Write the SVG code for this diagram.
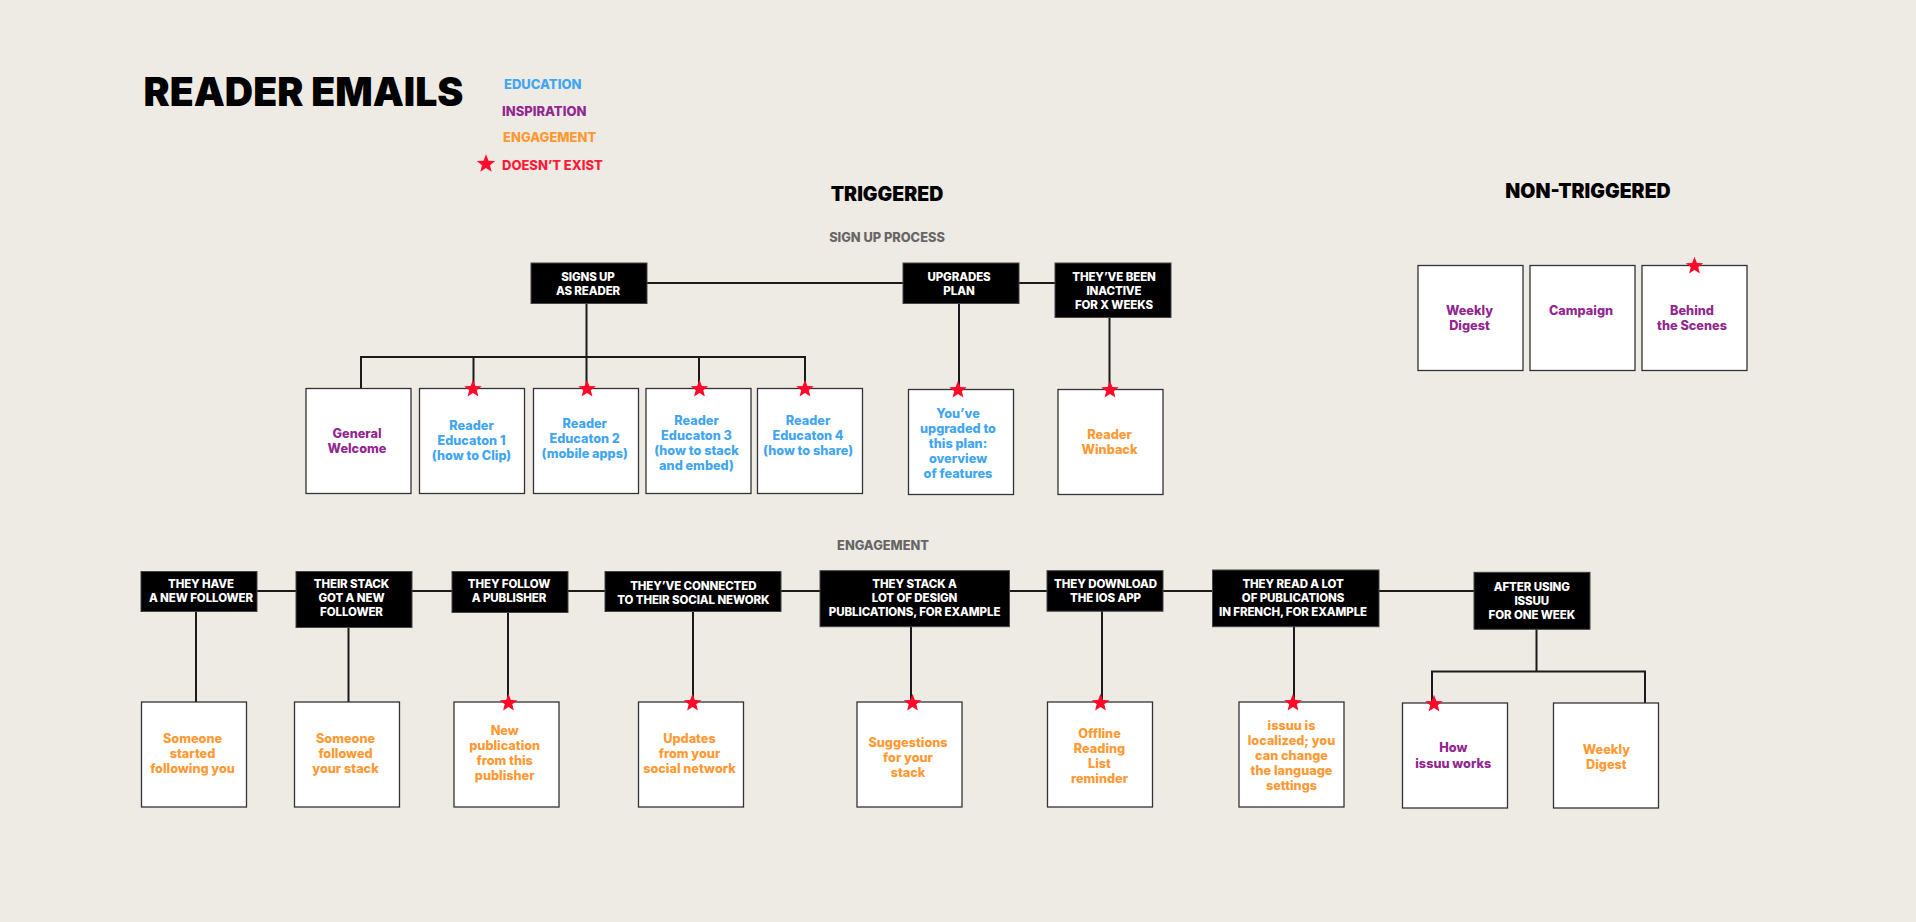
<svg xmlns="http://www.w3.org/2000/svg" width="1916" height="922" viewBox="0 0 1916 922">
<style>
text{font-family:"Inter","Liberation Sans",sans-serif;font-weight:700;text-anchor:middle}
.t{font-size:11.5px;fill:#fff;font-weight:800;letter-spacing:-.1px}
.e{font-size:12.7px;fill:#42a5f0;font-weight:800}
.i{font-size:12.7px;fill:#91278f;font-weight:800}
.g{font-size:12.7px;fill:#ff9933;font-weight:800}
.h{fill:#000;stroke:#444;stroke-width:1}
.b{fill:#fff;stroke:#333;stroke-width:1.3}
.c{fill:none;stroke:#1a1a1a;stroke-width:2}
.s{font-size:12.8px;fill:#666;font-weight:800}
.k{font-size:13px;font-weight:800;text-anchor:start}
.m{font-size:19.5px;font-weight:900;fill:#000}
</style>
<defs><polygon id="star" fill="#ff0a2b" points="0,-9.2 2.4,-3 8.8,-2.8 3.8,1.2 5.4,7.4 0,3.9 -5.400,7.400 -3.800,1.200 -8.800,-2.800 -2.400,-3"/></defs>
<rect width="1916" height="922" fill="#eeebe4"/>
<g id="header">
<text x="303.500" y="105.500" style="font-size:39.200px;font-weight:900;fill:#000">READER EMAILS</text>
<text class="k" x="504" y="89" style="fill:#42a5f0">EDUCATION</text>
<text class="k" x="502" y="116" style="fill:#91278f">INSPIRATION</text>
<text class="k" x="503" y="142" style="fill:#ff9933">ENGAGEMENT</text>
<text class="k" x="502" y="170" style="fill:#ff1a38">DOESN’T EXIST</text>
<use href="#star" transform="translate(486,164) scale(1.05)"/>
<text class="m" x="887" y="201">TRIGGERED</text>
<text class="m" x="1588" y="198">NON-TRIGGERED</text>
<text class="s" x="887" y="241.500">SIGN UP PROCESS</text>
<text class="s" x="883" y="550">ENGAGEMENT</text>
</g>
<g id="connectors" class="c">
<path d="M647 283H1055M586.500 303V357M361 388V357H805V388M473.500 357V388M586.500 357V388M699 357V388M959 303V389M1109.500 317V389"/>
<path d="M257 591H1474M196 611V702M348.500 627V702M508 612V702M693 611V702M911 626V702M1102 611V702M1294 626V702M1536.500 629V671.500M1432 703V671.500H1645V703"/>
</g>
<g id="n-signs-up"><rect class="h" x="531" y="263" width="116" height="40.500"/><text class="t" x="588" y="280.700">SIGNS UP</text><text class="t" x="588" y="294.700">AS READER</text></g>
<g id="n-upgrades"><rect class="h" x="903" y="263" width="116" height="40.500"/><text class="t" x="959" y="280.700">UPGRADES</text><text class="t" x="959" y="294.700">PLAN</text></g>
<g id="n-inactive"><rect class="h" x="1055" y="263" width="116" height="54.500"/><text class="t" x="1114" y="280.700">THEY’VE BEEN</text><text class="t" x="1114" y="294.700">INACTIVE</text><text class="t" x="1114" y="308.700">FOR X WEEKS</text></g>
<g id="n-general"><rect class="b" x="306" y="388.500" width="105" height="105"/><text class="i" x="357" y="437.800">General</text><text class="i" x="357" y="452.800">Welcome</text></g>
<g id="n-edu1"><rect class="b" x="419.500" y="388.500" width="105" height="105"/><text class="e" x="471.500" y="429.500">Reader</text><text class="e" x="471.500" y="444.500">Educaton 1</text><text class="e" x="471.500" y="459.500">(how to Clip)</text><use href="#star" x="473" y="389"/></g>
<g id="n-edu2"><rect class="b" x="533.500" y="388.500" width="105" height="105"/><text class="e" x="584.700" y="427.500">Reader</text><text class="e" x="584.700" y="442.500">Educaton 2</text><text class="e" x="584.700" y="457.500">(mobile apps)</text><use href="#star" x="587" y="389"/></g>
<g id="n-edu3"><rect class="b" x="646" y="388.500" width="105" height="105"/><text class="e" x="696.500" y="424.500">Reader</text><text class="e" x="696.500" y="439.500">Educaton 3</text><text class="e" x="696.500" y="454.500">(how to stack</text><text class="e" x="696.500" y="469.500">and embed)</text><use href="#star" x="699.500" y="389"/></g>
<g id="n-edu4"><rect class="b" x="757.500" y="388.500" width="105" height="105"/><text class="e" x="808" y="424.500">Reader</text><text class="e" x="808" y="439.500">Educaton 4</text><text class="e" x="808" y="454.500">(how to share)</text><use href="#star" x="805" y="389"/></g>
<g id="n-upgraded"><rect class="b" x="908.500" y="389.500" width="105" height="105"/><text class="e" x="958" y="418.300">You’ve</text><text class="e" x="958" y="433.300">upgraded to</text><text class="e" x="958" y="448.300">this plan:</text><text class="e" x="958" y="463.300">overview</text><text class="e" x="958" y="478.300">of features</text><use href="#star" x="958" y="390"/></g>
<g id="n-winback"><rect class="b" x="1058" y="389.500" width="105" height="105"/><text class="g" x="1109.500" y="438.800">Reader</text><text class="g" x="1109.500" y="453.800">Winback</text><use href="#star" x="1110" y="390"/></g>
<g id="n-weekly"><rect class="b" x="1418" y="265.500" width="105" height="105"/><text class="i" x="1469.500" y="315">Weekly</text><text class="i" x="1469.500" y="330">Digest</text></g>
<g id="n-campaign"><rect class="b" x="1530" y="265.500" width="105" height="105"/><text class="i" x="1581" y="315">Campaign</text></g>
<g id="n-behind"><rect class="b" x="1642" y="265.500" width="105" height="105"/><text class="i" x="1692" y="315">Behind</text><text class="i" x="1692" y="330">the Scenes</text><use href="#star" x="1694.500" y="266"/></g>
<g id="n-follower"><rect class="h" x="141" y="571.500" width="116" height="40"/><text class="t" x="201" y="588.300">THEY HAVE</text><text class="t" x="201" y="602.300">A NEW FOLLOWER</text></g>
<g id="n-stack"><rect class="h" x="296" y="571.500" width="116" height="56"/><text class="t" x="351.500" y="588.300">THEIR STACK</text><text class="t" x="351.500" y="602.300">GOT A NEW</text><text class="t" x="351.500" y="616.300">FOLLOWER</text></g>
<g id="n-publisher"><rect class="h" x="452" y="571.500" width="116" height="41"/><text class="t" x="509" y="588.300">THEY FOLLOW</text><text class="t" x="509" y="602.300">A PUBLISHER</text></g>
<g id="n-social"><rect class="h" x="605" y="571.500" width="176" height="40"/><text class="t" x="693.300" y="589.800">THEY’VE CONNECTED</text><text class="t" x="693.300" y="603.800">TO THEIR SOCIAL NEWORK</text></g>
<g id="n-design"><rect class="h" x="820" y="570.700" width="189.500" height="56"/><text class="t" x="914.600" y="588.300">THEY STACK A</text><text class="t" x="914.600" y="602.300">LOT OF DESIGN</text><text class="t" x="914.600" y="616.300">PUBLICATIONS, FOR EXAMPLE</text></g>
<g id="n-ios"><rect class="h" x="1047" y="570.700" width="116" height="40.500"/><text class="t" x="1105.500" y="588.300">THEY DOWNLOAD</text><text class="t" x="1105.500" y="602.300">THE IOS APP</text></g>
<g id="n-french"><rect class="h" x="1212.500" y="570" width="166.500" height="56.700"/><text class="t" x="1293" y="587.800">THEY READ A LOT</text><text class="t" x="1293" y="601.800">OF PUBLICATIONS</text><text class="t" x="1293" y="615.800">IN FRENCH, FOR EXAMPLE</text></g>
<g id="n-week"><rect class="h" x="1474" y="572.300" width="116" height="57"/><text class="t" x="1531.800" y="590.700">AFTER USING</text><text class="t" x="1531.800" y="604.700">ISSUU</text><text class="t" x="1531.800" y="618.700">FOR ONE WEEK</text></g>
<g id="n-started"><rect class="b" x="141.500" y="702" width="105" height="105"/><text class="g" x="192.500" y="743">Someone</text><text class="g" x="192.500" y="758">started</text><text class="g" x="192.500" y="773">following you</text></g>
<g id="n-followed"><rect class="b" x="294.500" y="702" width="105" height="105"/><text class="g" x="345.500" y="743">Someone</text><text class="g" x="345.500" y="758">followed</text><text class="g" x="345.500" y="773">your stack</text></g>
<g id="n-newpub"><rect class="b" x="454" y="702" width="105" height="105"/><text class="g" x="504.700" y="735">New</text><text class="g" x="504.700" y="750">publication</text><text class="g" x="504.700" y="765">from this</text><text class="g" x="504.700" y="780">publisher</text><use href="#star" x="508.500" y="703"/></g>
<g id="n-updates"><rect class="b" x="638.500" y="702" width="105" height="105"/><text class="g" x="689.500" y="743">Updates</text><text class="g" x="689.500" y="758">from your</text><text class="g" x="689.500" y="773">social network</text><use href="#star" x="692.500" y="703"/></g>
<g id="n-suggest"><rect class="b" x="857" y="702" width="105" height="105"/><text class="g" x="908" y="747">Suggestions</text><text class="g" x="908" y="762">for your</text><text class="g" x="908" y="777">stack</text><use href="#star" x="912.500" y="703"/></g>
<g id="n-offline"><rect class="b" x="1047.500" y="702" width="105" height="105"/><text class="g" x="1099.500" y="738">Offline</text><text class="g" x="1099.500" y="753">Reading</text><text class="g" x="1099.500" y="768">List</text><text class="g" x="1099.500" y="783">reminder</text><use href="#star" x="1100.500" y="703"/></g>
<g id="n-localized"><rect class="b" x="1239" y="702" width="105" height="105"/><text class="g" x="1291.500" y="730">issuu is</text><text class="g" x="1291.500" y="745">localized; you</text><text class="g" x="1291.500" y="760">can change</text><text class="g" x="1291.500" y="775">the language</text><text class="g" x="1291.500" y="790">settings</text><use href="#star" x="1293" y="703"/></g>
<g id="n-how"><rect class="b" x="1402.500" y="703" width="105" height="105"/><text class="i" x="1453.300" y="752">How</text><text class="i" x="1453.300" y="767.500">issuu works</text><use href="#star" x="1434" y="704"/></g>
<g id="n-digest2"><rect class="b" x="1553.500" y="703" width="105" height="105"/><text class="g" x="1606.400" y="753.800">Weekly</text><text class="g" x="1606.400" y="768.800">Digest</text></g>
</svg>
